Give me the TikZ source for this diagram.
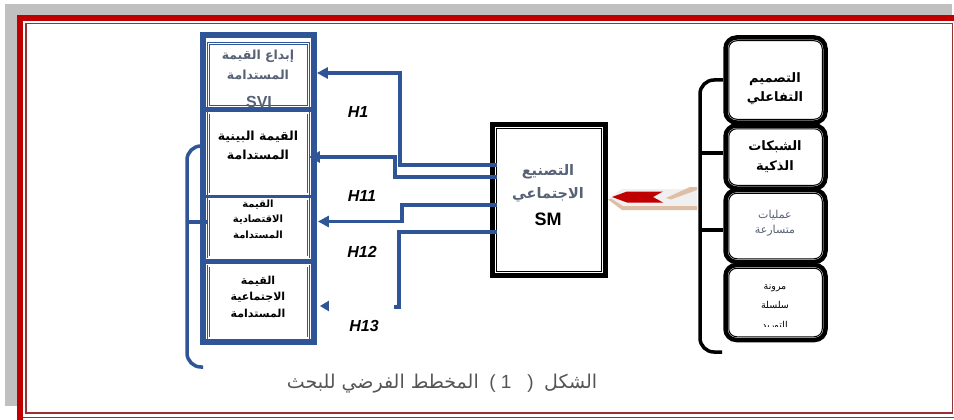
\documentclass[tikz,border=0pt]{standalone}
\usepackage{fontspec}
\setmainfont{Liberation Sans}
\newfontfamily\arabicfont[Script=Arabic]{DejaVu Sans}
\TeXXeTstate=1
\usetikzlibrary{arrows.meta,calc}
\definecolor{myblue}{RGB}{47,85,151}
\definecolor{frred}{RGB}{192,0,0}
\definecolor{dkred}{RGB}{150,50,50}
\definecolor{shadowgray}{RGB}{192,192,192}
\definecolor{slate}{RGB}{88,98,118}
\definecolor{capgray}{RGB}{85,85,85}
\definecolor{beige}{RGB}{222,190,165}
\newcommand{\artxt}[1]{{\arabicfont\beginR #1\endR}}
\newcommand{\fs}[1]{\fontsize{#1}{#1}\selectfont}
\tikzset{
  lbox/.style={draw=myblue, line width=0.8pt, double=white, double distance=1.3pt,
    minimum width=100, inner sep=0pt},
  rbox/.style={draw=black, line width=4.5pt, rounded corners=11pt,
    minimum width=100, inner sep=0pt},
  rinner/.style={draw=black, line width=1pt, rounded corners=8pt},
  conn/.style={draw=myblue, line width=3.5pt,
    -{Triangle[length=11pt,width=11pt]}},
  connplain/.style={draw=myblue, line width=3.5pt},
  atxt/.style={inner sep=0pt, align=center},
  hlab/.style={inner sep=0pt, font=\fs{16}\bfseries\itshape},
}
\begin{document}
\begin{tikzpicture}[x=1pt,y=-1pt]
\useasboundingbox (0,0) rectangle (954,420);
% page frame
\fill[white] (0,0) rectangle (954,420);
\fill[shadowgray] (5,4) rectangle (952,406);
\fill[white] (17,15) rectangle (954,420);
\fill[frred] (17,15) rectangle (23,420);
\fill[frred] (17,15) rectangle (954,21);
\draw[dkred, line width=1.1pt] (26,23.5) rectangle (952.5,413);
\draw[dkred, line width=1.1pt] (23,417.5) -- (954,417.5);

% ---------------- left column ----------------
\node[lbox, minimum height=63] (b1) at (258.5,75) {};
\node[lbox, minimum height=81] (b2) at (258.5,153.5) {};
\node[lbox, minimum height=58] (b3) at (258.5,228) {};
\node[lbox, minimum height=72] (b4) at (258.5,302) {};

\node[atxt, text=slate, font=\fs{12.5}\bfseries] (t1a) at (258,56) {\artxt{إبداع القيمة}};
\node[atxt, text=slate, font=\fs{12.5}\bfseries] (t1b) at (258,75) {\artxt{المستدامة}};
\node[anchor=base, inner sep=0pt, text=slate, font=\fs{16}\bfseries] (t1c) at (259,107) {SVI};

\draw[myblue, line width=6pt] (203,35) rectangle (314,342);
\draw[myblue, line width=5pt] (203,109.5) -- (314,109.5);
\draw[myblue, line width=3pt] (203,196.5) -- (314,196.5);
\draw[myblue, line width=5pt] (203,261.5) -- (314,261.5);

\node[atxt, font=\fs{12.5}\bfseries] (t2a) at (258,137) {\artxt{القيمة البينية}};
\node[atxt, font=\fs{12.5}\bfseries] (t2b) at (258,155) {\artxt{المستدامة}};
\node[atxt, font=\fs{10}\bfseries] (t3a) at (258,205) {\artxt{القيمة}};
\node[atxt, font=\fs{10}\bfseries] (t3b) at (258,220) {\artxt{الاقتصادية}};
\node[atxt, font=\fs{10}\bfseries] (t3c) at (258,235) {\artxt{المستدامة}};
\node[atxt, font=\fs{11}\bfseries] (t4a) at (258,281) {\artxt{القيمة}};
\node[atxt, font=\fs{11}\bfseries] (t4b) at (258,297) {\artxt{الاجتماعية}};
\node[atxt, font=\fs{11}\bfseries] (t4c) at (258,313) {\artxt{المستدامة}};

% left bracket
\coordinate (lbtop) at (203,146);
\coordinate (lbbot) at (203,367);
\coordinate (lbtick) at (187,222);
\draw[myblue, line width=3.5pt, rounded corners=14pt] (lbtop) -| (lbbot -| lbtick) -- (lbbot);
\draw[myblue, line width=3.5pt] (lbtick) -- (lbtick -| b3.west);

% ---------------- SM box ----------------
\node[draw=black, line width=6pt, minimum width=112, minimum height=150, inner sep=0pt] (sm) at (549,200) {};
\draw[black, line width=0.8pt, double=white, double distance=1.3pt]
  ($(sm.north west)+(5.5,5.5)$) rectangle ($(sm.south east)+(-5.5,-5.5)$);
\node[atxt, text=slate, font=\fs{14.5}\bfseries] (sma) at (548,172) {\artxt{التصنيع}};
\node[atxt, text=slate, font=\fs{14.5}\bfseries] (smb) at (548,195) {\artxt{الاجتماعي}};
\node[atxt, font=\fs{18}\bfseries] (smc) at (548,219) {SM};

% connectors
\coordinate (s1) at ($(sm.west)+(7,-35)$);
\coordinate (s2) at ($(sm.west)+(7,-23)$);
\coordinate (s3) at ($(sm.west)+(7,5)$);
\coordinate (s4) at ($(sm.west)+(7,32)$);
\draw[conn] (s1) -- ++(-97,0) |- ([xshift=8pt,yshift=2pt]b1.east);
\draw[conn] (s2) -- ++(-102,0) |- ($(b2.east)+(0,3.5)$);
\draw[conn] (s3) -- ++(-95,0) |- ($(b3.east)+(9,-6.5)$);
\draw[connplain] (s4) -- ++(-98,0) -- ++(0,75) -- ++(-5,0);
\draw[conn, -{Triangle[length=9pt,width=10pt]}] ($(b4.east)+(20,4)$) -- ($(b4.east)+(11,4)$);

\node[hlab] (h1) at (358,112) {H1};
\node[hlab] (h11) at (362,196) {H11};
\node[hlab] (h12) at (362,252) {H12};
\node[hlab] (h13) at (364,326) {H13};

% ---------------- right column ----------------
\node[rbox, minimum height=85] (r1) at (775.5,80) {};
\node[rbox, minimum height=63] (r2) at (775.5,157) {};
\node[rbox, minimum height=72] (r3) at (775.5,226) {};
\node[rbox, minimum height=75] (r4) at (775.5,302.5) {};
\foreach \r in {r1,r2,r3,r4}{
  \draw[rinner] ($(\r.north west)+(5.5,5.5)$) rectangle ($(\r.south east)+(-5.5,-5.5)$);
}
\node[atxt, font=\fs{13}\bfseries] (r1a) at (775,79) {\artxt{التصميم}};
\node[atxt, font=\fs{13}\bfseries] (r1b) at (775,98) {\artxt{التفاعلي}};
\node[atxt, font=\fs{13}\bfseries] (r2a) at (775,147) {\artxt{الشبكات}};
\node[atxt, font=\fs{13}\bfseries] (r2b) at (775,167) {\artxt{الذكية}};
\node[atxt, text=slate, font=\fs{11}] (r3a) at (775,215) {\artxt{عمليات}};
\node[atxt, text=slate, font=\fs{11}] (r3b) at (775,231) {\artxt{متسارعة}};
\node[atxt, font=\fs{9.5}] (r4a) at (775,288) {\artxt{مرونة}};
\node[atxt, font=\fs{9.5}] (r4b) at (775,305) {\artxt{سلسلة}};
\begin{scope}
\clip (730,310) rectangle (820,326);
\node[atxt, font=\fs{9.5}] (r4c) at (775,326) {\artxt{التوريد}};
\end{scope}

% right bracket
\coordinate (rbtop) at (723,80);
\coordinate (rbbot) at (722,352);
\coordinate (rbx) at (700,200);
\coordinate (rt1) at (700,153);
\coordinate (rt2) at (700,230);
\draw[black, line width=3.5pt, rounded corners=14pt] (rbtop) -| (rbbot -| rbx) -- (rbbot);
\draw[black, line width=3.5pt] (rt1) -- (rt1 -| r2.west);
\draw[black, line width=3.5pt] (rt2) -- (rt2 -| r3.west);

% ---------------- red 3D arrow ----------------
\fill[gray!12] (609,198) -- (622,189) -- (697,189) -- (697,206) -- (622,206) -- cycle;
\fill[beige] (608,199.5) -- (622,210) -- (697,210) -- (697,206) -- (623,206) -- (611,198.5) -- cycle;
\fill[beige] (666,198) -- (690,187) -- (697,187) -- (697,190) -- (671,199.5) -- cycle;
\fill[frred] (612,197) -- (627,191.5) -- (663,191.5) -- (653,197) -- (663,202.5) -- (627,202.5) -- cycle;

% ---------------- caption ----------------
\node[inner sep=0pt, text=capgray, font=\fs{19}] (cap) at (442,384)
  {\artxt{المخطط الفرضي للبحث}\ \ (\ 1\ \ \ )\ \ \artxt{الشكل}};
\end{tikzpicture}
\end{document}
